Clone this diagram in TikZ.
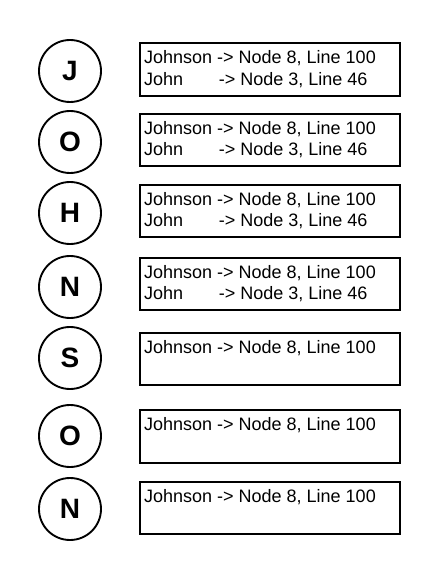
\documentclass[tikz,border=0pt]{standalone}
\usepackage{fontspec}
\setmainfont{Liberation Sans}
\usetikzlibrary{positioning}
\tikzset{
  letterc/.style={circle, draw=black, line width=1.4pt, minimum size=46.5pt,
                  inner sep=0pt, font=\fontsize{21}{24}\selectfont\bfseries},
  entrybox/.style={draw=black, line width=1.4pt, minimum width=195pt,
                   minimum height=39.5pt, inner sep=0pt},
  entrytxt/.style={anchor=north west, align=left, inner xsep=3.6pt, inner ysep=6pt,
                   font=\fontsize{13.5}{16.3}\selectfont},
}
\newcommand{\twoent}{Johnson -> Node 8, Line 100\\\makebox[4.15em][l]{John}-> Node 3, Line 46}
\newcommand{\oneent}{Johnson -> Node 8, Line 100}

\begin{document}
\begin{tikzpicture}[x=0.75pt,y=-0.75pt]
    \useasboundingbox (0,0) rectangle (440,580);
    % letters of the key
    \node[letterc] (c1) at (70,71) {J};
    \node[letterc] (c2) at (70,142) {O};
    \node[letterc] (c3) at (70,213) {H};
    \node[letterc] (c4) at (70,287) {N};
    \node[letterc] (c5) at (70,358) {S};
    \node[letterc] (c6) at (70,436) {O};
    \node[letterc] (c7) at (70,509) {N};
    % entries
    \node[entrybox] (b1) at (270,69.5) {};
    \node[entrytxt] (t1) at (b1.north west) {\twoent};
    \node[entrybox] (b2) at (270,140) {};
    \node[entrytxt] (t2) at (b2.north west) {\twoent};
    \node[entrybox] (b3) at (270,211) {};
    \node[entrytxt] (t3) at (b3.north west) {\twoent};
    \node[entrybox] (b4) at (270,284) {};
    \node[entrytxt] (t4) at (b4.north west) {\twoent};
    \node[entrybox] (b5) at (270,359) {};
    \node[entrytxt] (t5) at (b5.north west) {\oneent};
    \node[entrybox] (b6) at (270,436.5) {};
    \node[entrytxt] (t6) at (b6.north west) {\oneent};
    \node[entrybox] (b7) at (270,508) {};
    \node[entrytxt] (t7) at (b7.north west) {\oneent};
\end{tikzpicture}
\end{document}
